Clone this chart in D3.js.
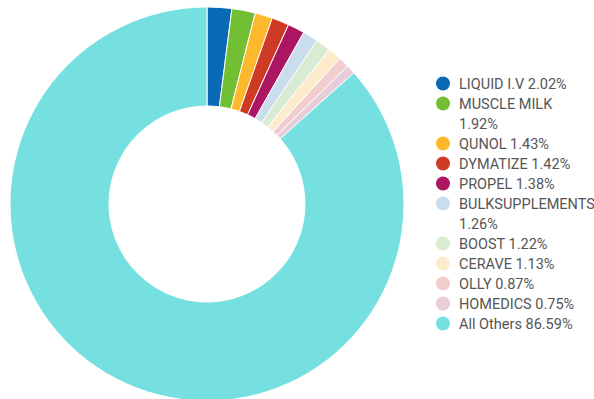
<!DOCTYPE html>
<html><head><meta charset="utf-8">
<script src="https://cdn.jsdelivr.net/npm/d3@7"></script>
<style>html,body{margin:0;padding:0;background:#fff;}svg{display:block;}</style>
</head><body>
<svg id="c" width="594" height="399"></svg>
<script>
const categories = ["LIQUID I.V","MUSCLE MILK","QUNOL","DYMATIZE","PROPEL","BULKSUPPLEMENTS","BOOST","CERAVE","OLLY","HOMEDICS","All Others"];
const values = [2.02,1.92,1.43,1.42,1.38,1.26,1.22,1.13,0.87,0.75,86.59];
const colors = ["#0a6ab5","#72bf33","#fdb92b","#cf3a24","#ac1561","#c9ddec","#d9ebd3","#fdeccc","#f2cdcd","#e9ccda","#76e0e0"];

const svg = d3.select("#c");
const data = categories.map((c,i)=>({name:c,value:values[i],color:colors[i]}));
const pie = d3.pie().value(d=>d.value).sort(null);
const arc = d3.arc().innerRadius(98).outerRadius(197);
const g = svg.append("g").attr("transform","translate(207,204)");
g.selectAll("path").data(pie(data)).join("path")
  .attr("d",arc).attr("fill",d=>d.data.color)
  .attr("stroke","#fff").attr("stroke-width",1);

const lg = svg.append("g").attr("font-family","Roboto, sans-serif").attr("font-size",14.5).attr("fill","#555");
let y = 83.5;
const maxW = 120, tx = 459, step = 20;
data.forEach(d=>{
  lg.append("circle").attr("cx",443).attr("cy",y).attr("r",7).attr("fill",d.color);
  const words = (d.name+" "+d.value.toFixed(2)+"%").split(" ");
  const t = lg.append("text").attr("x",tx).attr("y",y).attr("dy","0.35em");
  let line = [], ts = t.append("tspan").attr("x",tx);
  let lines = 1;
  words.forEach(w=>{
    line.push(w);
    ts.text(line.join(" "));
    if (ts.node().getComputedTextLength() > maxW && line.length>1){
      line.pop(); ts.text(line.join(" "));
      line=[w];
      ts = t.append("tspan").attr("x",tx).attr("dy",step).text(w);
      lines++;
    }
  });
  y += step*lines;
});
</script>
</body></html>
